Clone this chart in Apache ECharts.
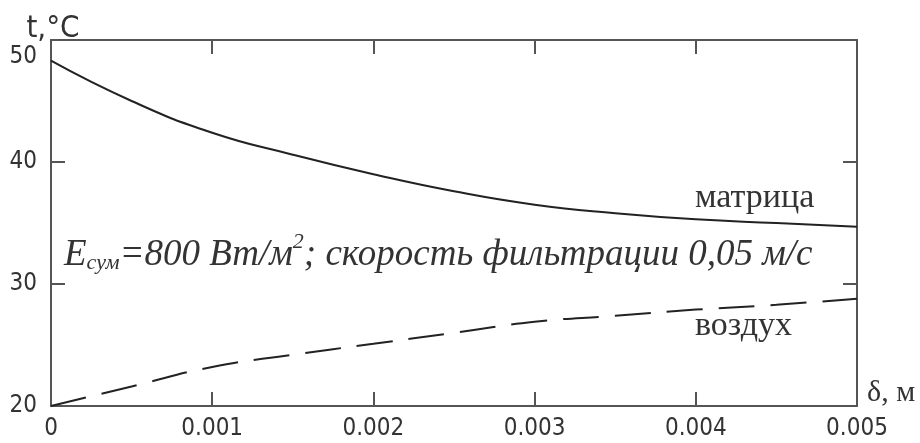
<!DOCTYPE html>
<html>
<head>
<meta charset="utf-8">
<script src="https://cdn.jsdelivr.net/npm/echarts@6/dist/echarts.min.js"></script>
<style>
  html, body { margin: 0; padding: 0; background: #fff; }
  #chart { width: 920px; height: 443px; }
</style>
</head>
<body>
<div id="chart"></div>
<script>
// Thickness δ, m
const depth = [0, 0.0005, 0.001, 0.0015, 0.002, 0.0025, 0.003, 0.0035, 0.004, 0.0045, 0.005];
// Temperature of the matrix, °C
const matrixTemp = [48.3, 45.0, 42.4, 40.6, 39.0, 37.6, 36.5, 35.8, 35.3, 35.0, 34.7];
// Temperature of the air, °C
const airTemp = [20.0, 21.6, 23.2, 24.2, 25.1, 26.0, 26.9, 27.4, 27.9, 28.3, 28.8];

const xTicks = { min: 0, max: 0.005, step: 0.001 };
const yTicks = { min: 20, max: 50, step: 10 };

const seriesNames = ['матрица', 'воздух'];

const axisColor = '#555';
const textColor = '#333';
const sansFont = '"Liberation Sans Narrow", "DejaVu Sans Condensed", sans-serif';
const serifFont = '"Liberation Serif", "DejaVu Serif", serif';

const pairs = (xs, ys) => xs.map((x, i) => [x, ys[i]]);

const chart = echarts.init(document.getElementById('chart'), null, { renderer: 'canvas' });

const baseAxis = {
  axisLine: { show: true, onZero: false, lineStyle: { color: axisColor, width: 2 } },
  axisTick: { show: true, inside: true, length: 14, lineStyle: { color: axisColor, width: 2 } },
  splitLine: { show: false }
};

chart.setOption({
  animation: false,
  backgroundColor: '#fff',
  grid: { left: 51, right: 63, top: 40, bottom: 37, containLabel: false },
  xAxis: [
    Object.assign({}, baseAxis, {
      type: 'value', position: 'bottom',
      min: xTicks.min, max: xTicks.max, interval: xTicks.step,
      axisLabel: {
        color: textColor, fontFamily: sansFont, fontSize: 24, margin: 11,
        formatter: v => (v === 0 ? '0' : v.toFixed(3))
      },
      name: 'δ, м', nameLocation: 'end', nameGap: 10,
      nameTextStyle: { color: textColor, fontFamily: serifFont, fontSize: 30, verticalAlign: 'bottom', padding: [0, 0, -2, 0] }
    }),
    Object.assign({}, baseAxis, {
      type: 'value', position: 'top',
      min: xTicks.min, max: xTicks.max, interval: xTicks.step,
      axisLabel: { show: false }
    })
  ],
  yAxis: [
    Object.assign({}, baseAxis, {
      type: 'value', position: 'left',
      min: yTicks.min, max: yTicks.max, interval: yTicks.step,
      axisLabel: {
        color: textColor, fontFamily: sansFont, fontSize: 24, margin: 14,
        formatter: v => (v === yTicks.max ? '{top|' + v + '}' : String(v)),
        rich: { top: { fontFamily: sansFont, fontSize: 24, color: textColor, padding: [34, 0, 0, 0] } }
      },
      name: 't,°C', nameLocation: 'end', nameGap: -4,
      nameTextStyle: { color: textColor, fontFamily: sansFont, fontSize: 31, align: 'center', padding: [0, 0, 0, 4] }
    }),
    Object.assign({}, baseAxis, {
      type: 'value', position: 'right',
      min: yTicks.min, max: yTicks.max, interval: yTicks.step,
      axisLabel: { show: false }
    })
  ],
  series: [
    {
      name: seriesNames[0], type: 'line', smooth: true, symbol: 'none',
      data: pairs(depth, matrixTemp),
      lineStyle: { color: '#222', width: 2 }
    },
    {
      name: seriesNames[1], type: 'line', smooth: true, symbol: 'none',
      data: pairs(depth, airTemp),
      lineStyle: { color: '#222', width: 2, type: [36, 16] }
    }
  ],
  graphic: [
    {
      type: 'text', left: 695, top: 181,
      style: { text: seriesNames[0], font: '34px ' + serifFont, fill: textColor }
    },
    {
      type: 'text', left: 695, top: 309,
      style: { text: seriesNames[1], font: '34px ' + serifFont, fill: textColor }
    },
    {
      type: 'text', left: 64, top: 231,
      style: {
        text: '{m|E}{sub|сум}{m|=800 Вт/м}{sup|2}{m|; скорость фильтрации 0,05 м/с}',
        fill: textColor,
        rich: {
          m: { fontFamily: serifFont, fontStyle: 'italic', fontSize: 37, lineHeight: 43, verticalAlign: 'bottom', fill: textColor },
          sub: { fontFamily: serifFont, fontStyle: 'italic', fontSize: 22, lineHeight: 43, verticalAlign: 'bottom', fill: textColor },
          sup: { fontFamily: serifFont, fontStyle: 'italic', fontSize: 22, lineHeight: 43, verticalAlign: 'top', fill: textColor }
        }
      }
    }
  ]
});
</script>
</body>
</html>
